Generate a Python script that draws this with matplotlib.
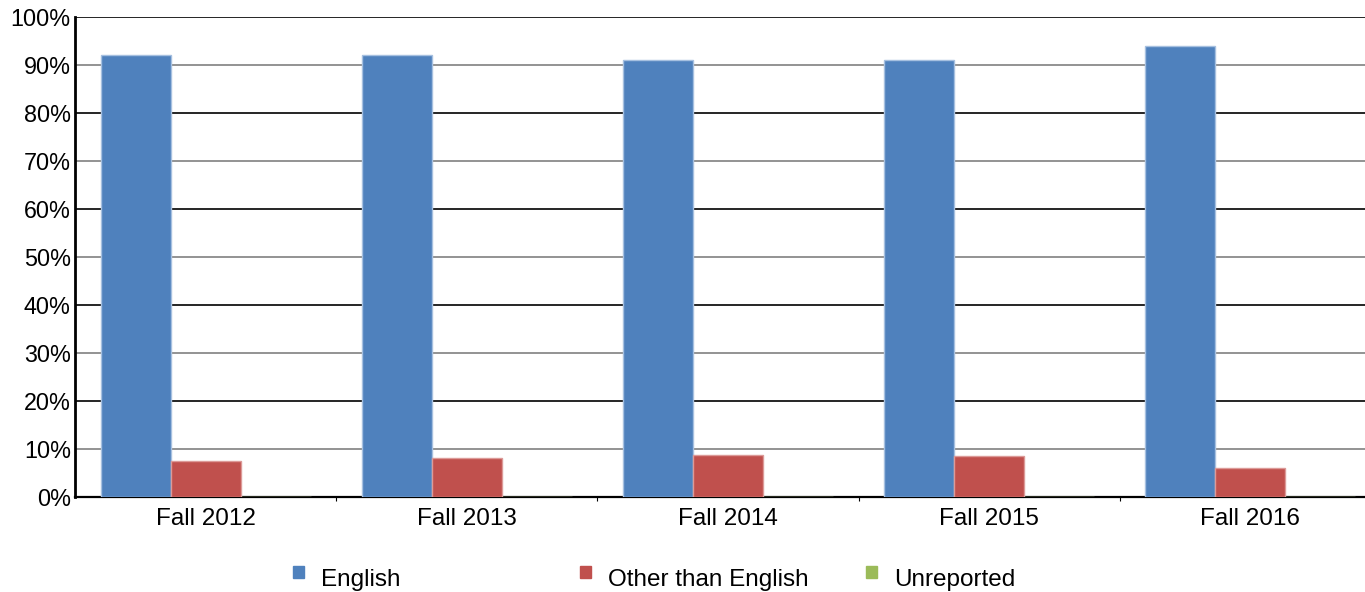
import numpy as np
import matplotlib
matplotlib.use("Agg")
import matplotlib.pyplot as plt
from matplotlib.patches import Rectangle
from matplotlib.ticker import PercentFormatter

plt.rcParams['font.family'] = ['Liberation Sans', 'DejaVu Sans']

# data (percent of students by home language)
terms = ['Fall 2012', 'Fall 2013', 'Fall 2014', 'Fall 2015', 'Fall 2016']
english = [92, 92, 91, 91, 94]
other = [7.6, 8.2, 8.7, 8.6, 6.0]
unreported = [0.1, 0.1, 0.1, 0.1, 0.1]

series = ['English', 'Other than English', 'Unreported']
colors = ['#4F81BD', '#C0504D', '#9BBB59']
edges = ['#a6c0e0', '#dc9a98', '#c4d99c']

fig = plt.figure(figsize=(13.65, 5.92), dpi=100)
# plot area runs a little past the right edge of the image
ax = fig.add_axes([75 / 1365, 1 - 497 / 592, 1306 / 1365, 480 / 592])

x = np.arange(len(terms))
w = 0.268
for i, vals in enumerate([english, other, unreported]):
    ax.bar(x + (i - 1) * w, vals, width=w, color=colors[i],
           edgecolor=edges[i], linewidth=1, zorder=3)

ax.set_xlim(-0.5, len(terms) - 0.5)
ax.set_ylim(0, 100)
ax.set_yticks(np.arange(0, 101, 10))
ax.yaxis.set_major_formatter(PercentFormatter(decimals=0))
ax.set_xticks(x)
ax.set_xticklabels(terms)
ax.set_xticks(x[:-1] + 0.5, minor=True)
ax.tick_params(axis='x', which='major', length=0, pad=8, labelsize=17.5)
ax.tick_params(axis='x', which='minor', length=3, width=0.8, direction='out')
ax.tick_params(axis='y', length=0, pad=3, labelsize=16.8)

# gridlines alternate black / gray
for t in range(10, 101, 10):
    ax.axhline(t, color='black' if t % 20 == 0 else '#808080',
               linewidth=1.2, zorder=1)

for s in ['top', 'right']:
    ax.spines[s].set_visible(False)
ax.spines['left'].set_linewidth(2)
ax.spines['bottom'].set_linewidth(1.6)
ax.spines['left'].set_zorder(4)
ax.spines['bottom'].set_zorder(2)

# legend drawn by hand so entries sit at even spacing
leg_x = [293, 580, 866]
for i, name in enumerate(series):
    fig.add_artist(Rectangle((leg_x[i] / 1365, 1 - 578 / 592), 11 / 1365, 12 / 592,
                             transform=fig.transFigure, color=colors[i]))
    fig.text((leg_x[i] + 28) / 1365, 1 - 580 / 592, name, fontsize=17.5,
             va='center', ha='left')

fig.savefig('out.png', dpi=100)
